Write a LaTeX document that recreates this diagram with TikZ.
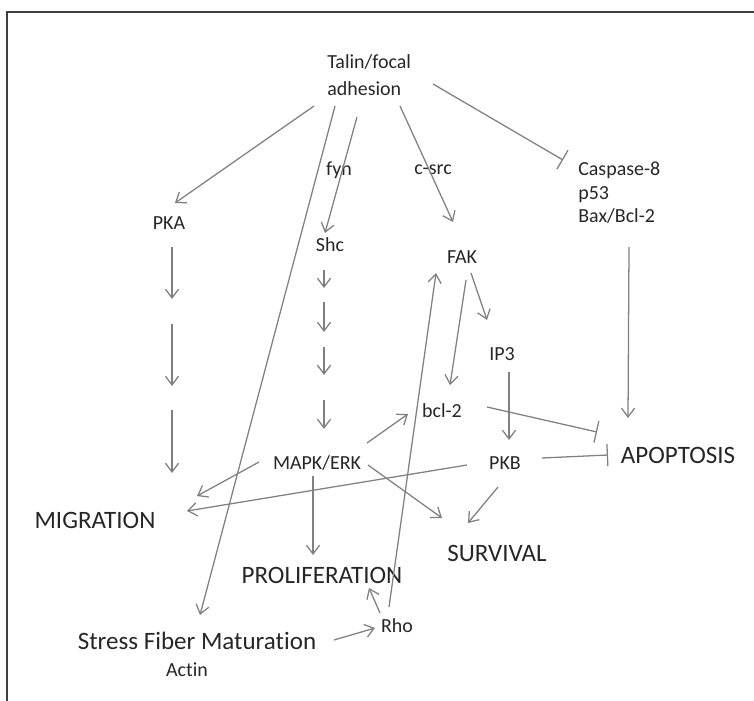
\documentclass[tikz,border=0pt]{standalone}
\usepackage{fontspec}
\setmainfont{Carlito}[Ligatures=NoCommon]
\usepackage{tikz}
\usetikzlibrary{arrows.meta,calc}
\tikzstyle{lbl} = [inner sep=0pt, text=black!85, font=\fontsize{14.2}{16.7}\selectfont]
\tikzstyle{big} = [inner sep=0pt, text=black!85, font=\fontsize{17.8}{21}\selectfont]
\tikzstyle{act} = [draw, gray, line width=0.9pt, -{Straight Barb[length=2.2mm,width=3.3mm]}]
\tikzstyle{inh} = [draw, gray, line width=0.9pt, -{Bar[width=5.5mm]}]

\begin{document}
\begin{tikzpicture}[x=0.025cm, y=-0.025cm]
\useasboundingbox (0,0) rectangle (754,701);

% Frame
\draw[black!75, line width=1.4pt] (7,701) -- (7,12) -- (754,12);

% Top node
\node[lbl, align=left, anchor=west, font=\fontsize{14.2}{19.2}\selectfont] (talin) at (327,75) {Talin/focal\\adhesion};

% Edge labels
\node[lbl] (fyn) at (339,170) {fyn};
\node[lbl] (csrc) at (433,170) {c-src};

% Signalling nodes
\node[lbl] (pka) at (169,223) {PKA};
\node[lbl] (shc) at (330,245) {Shc};
\node[lbl] (fak) at (462,257) {FAK};
\node[lbl, align=left, anchor=west] (casp) at (578,193) {Caspase-8\\p53\\Bax/Bcl-2};
\node[lbl] (ip3) at (502,354) {IP3};
\node[lbl] (bcl) at (442,411) {bcl-2};
\node[lbl] (mapk) at (317,463) {MAPK/ERK};
\node[lbl] (pkb) at (505,463) {PKB};
\node[lbl] (rho) at (397,626) {Rho};

% Outcome nodes
\node[big] (apop) at (678,455) {APOPTOSIS};
\node[big] (migr) at (95,520) {MIGRATION};
\node[big] (surv) at (497,553) {SURVIVAL};
\node[big] (prolif) at (322,575) {PROLIFERATION};
\node[big] (stress) at (197,641) {Stress Fiber Maturation};
\node[lbl] (actin) at (187,670) {Actin};

% Arrows out of Talin
\draw[act] ($(talin.west)+(-13,31)$) -- ($(pka)+(6,-20)$);
\draw[act] ($(talin.west)+(8,31)$) -- ($(stress)+(3,-26)$);
\draw[act] ($(talin.west)+(30,42)$) -- ($(shc)+(-5,-12)$);
\draw[act] ($(talin.west)+(73,31)$) -- ($(fak)+(-9,-35)$);
\draw[inh] ($(talin.west)+(106,9)$) -- ($(casp.west)+(-15,-33)$);

% PKA and Shc cascades
\foreach \a/\b in {24/76, 101/163, 187/250}
  \draw[act] ($(pka)+(3,\a)$) -- ($(pka)+(3,\b)$);
\foreach \a/\b in {25/43, 57/87, 102/130, 155/184}
  \draw[act] ($(shc)+(-6,\a)$) -- ($(shc)+(-6,\b)$);

% FAK branch
\draw[act] ($(fak)+(4,23)$) -- ($(bcl)+(8,-26)$);
\draw[act] ($(fak)+(9,16)$) -- ($(ip3)+(-15,-34)$);
\draw[act] ($(ip3)+(7,18)$) -- ($(pkb)+(4,-23)$);

% Apoptosis
\draw[act] ($(casp.west)+(51,54)$) -- ($(apop)+(-50,-37)$);
\draw[inh] ($(bcl)+(45,-4)$) -- ($(apop)+(-81,-23)$);
\draw[inh] ($(pkb)+(37,-5)$) -- ($(apop)+(-70,0)$);

% PKB outputs
\draw[act] ($(pkb)+(-7,24)$) -- ($(surv)+(-29,-30)$);
\draw[act] ($(pkb)+(-38,2)$) -- ($(migr)+(92,-9)$);

% MAPK/ERK outputs
\draw[act] ($(mapk)+(-58,-1)$) -- ($(migr)+(102,-24)$);
\draw[act] ($(mapk)+(-4,13)$) -- ($(prolif)+(-9,-20)$);
\draw[act] ($(mapk)+(50,-20)$) -- ($(bcl)+(-34,3)$);
\draw[act] ($(mapk)+(51,2)$) -- ($(surv)+(-55,-35)$);

% Rho
\draw[act] ($(rho)+(-8,-19)$) -- ($(fak)+(-26,16)$);
\draw[act] ($(rho)+(-17,-13)$) -- ($(prolif)+(47,13)$);
\draw[act] ($(stress)+(137,-1)$) -- ($(rho)+(-22,2)$);

\end{tikzpicture}
\end{document}
